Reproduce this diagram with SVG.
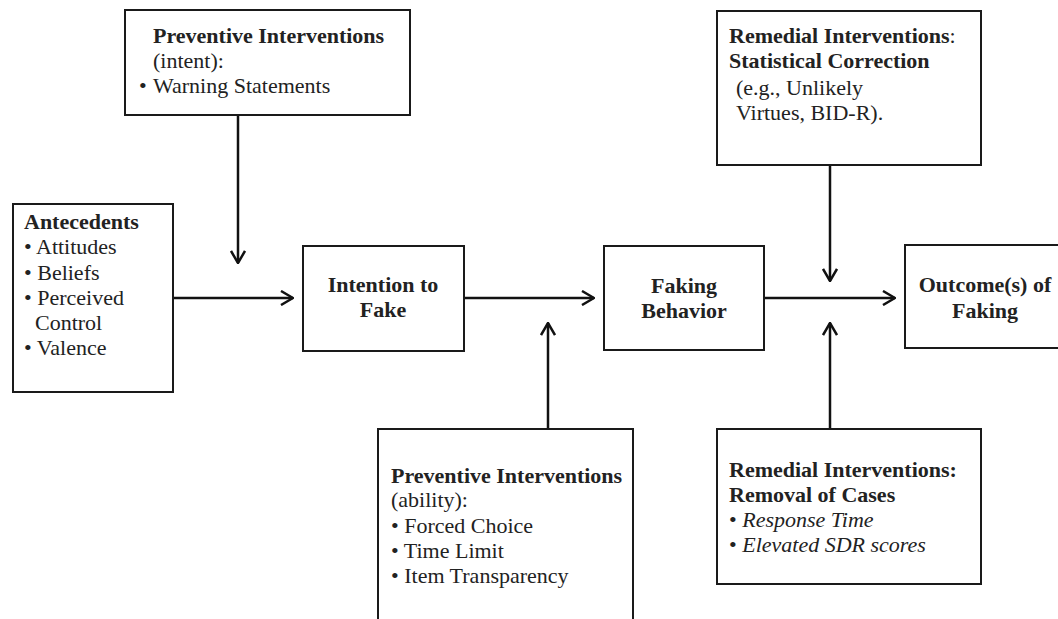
<svg xmlns="http://www.w3.org/2000/svg" width="1058" height="619" viewBox="0 0 1058 619">
<style>
.box{fill:#fff;stroke:#1a1a1a;stroke-width:2}
.t{font-family:"Liberation Serif","Times New Roman",serif;font-size:22px;fill:#222}
.b{font-weight:bold}
.i{font-style:italic}
.c{text-anchor:middle}
.ln{stroke:#111;stroke-width:2.5;fill:none}
</style>
<defs>
<marker id="arr" viewBox="0 0 14 16" refX="13" refY="8" markerWidth="14" markerHeight="16" orient="auto" markerUnits="userSpaceOnUse">
<path d="M1,1 L13,8 L1,15" fill="none" stroke="#111" stroke-width="2.5"/>
</marker>
</defs>
<rect width="1058" height="619" fill="#fff"/>
<g id="connectors">
<line class="ln" x1="238" y1="115" x2="238" y2="263" marker-end="url(#arr)"/>
<line class="ln" x1="173" y1="298" x2="293" y2="298" marker-end="url(#arr)"/>
<line class="ln" x1="464" y1="298" x2="594" y2="298" marker-end="url(#arr)"/>
<line class="ln" x1="548" y1="429" x2="548" y2="323" marker-end="url(#arr)"/>
<line class="ln" x1="764" y1="298" x2="895" y2="298" marker-end="url(#arr)"/>
<line class="ln" x1="830" y1="165" x2="830" y2="281" marker-end="url(#arr)"/>
<line class="ln" x1="830" y1="429" x2="830" y2="323" marker-end="url(#arr)"/>
</g>
<g id="prev-intent">
<rect class="box" x="125" y="10" width="285" height="105"/>
<text class="t b" x="153" y="43">Preventive Interventions</text>
<text class="t" x="153" y="68">(intent):</text>
<text class="t" x="139" y="93">•</text>
<text class="t" x="153" y="93">Warning Statements</text>
</g>
<g id="antecedents">
<rect class="box" x="13" y="204" width="160" height="188"/>
<text class="t b" x="24" y="229">Antecedents</text>
<text class="t" x="24" y="254">• Attitudes</text>
<text class="t" x="24" y="280">• Beliefs</text>
<text class="t" x="24" y="305">• Perceived</text>
<text class="t" x="35" y="330">Control</text>
<text class="t" x="24" y="355">• Valence</text>
</g>
<g id="intention">
<rect class="box" x="303" y="246" width="161" height="105"/>
<text class="t b c" x="383" y="292">Intention to</text>
<text class="t b c" x="383" y="317">Fake</text>
</g>
<g id="faking">
<rect class="box" x="604" y="246" width="160" height="104"/>
<text class="t b c" x="684" y="293">Faking</text>
<text class="t b c" x="684" y="318">Behavior</text>
</g>
<g id="outcome">
<rect class="box" x="905" y="245" width="170" height="103"/>
<text class="t b c" x="985" y="292">Outcome(s) of</text>
<text class="t b c" x="985" y="318">Faking</text>
</g>
<g id="prev-ability">
<rect class="box" x="378" y="429" width="255" height="215"/>
<text class="t b" x="391" y="483">Preventive Interventions</text>
<text class="t" x="391" y="507">(ability):</text>
<text class="t" x="391" y="533">• Forced Choice</text>
<text class="t" x="391" y="558">• Time Limit</text>
<text class="t" x="391" y="583">• Item Transparency</text>
</g>
<g id="rem-stat">
<rect class="box" x="717" y="11" width="264" height="154"/>
<text class="t" x="729" y="43"><tspan class="b">Remedial Interventions</tspan>:</text>
<text class="t b" x="729" y="68">Statistical Correction</text>
<text class="t" x="736" y="95">(e.g., Unlikely</text>
<text class="t" x="736" y="120">Virtues, BID-R).</text>
</g>
<g id="rem-removal">
<rect class="box" x="717" y="429" width="264" height="155"/>
<text class="t b" x="729" y="477">Remedial Interventions:</text>
<text class="t b" x="729" y="502">Removal of Cases</text>
<text class="t" x="729" y="527">• <tspan class="i">Response Time</tspan></text>
<text class="t" x="729" y="552">• <tspan class="i">Elevated SDR scores</tspan></text>
</g>
</svg>
